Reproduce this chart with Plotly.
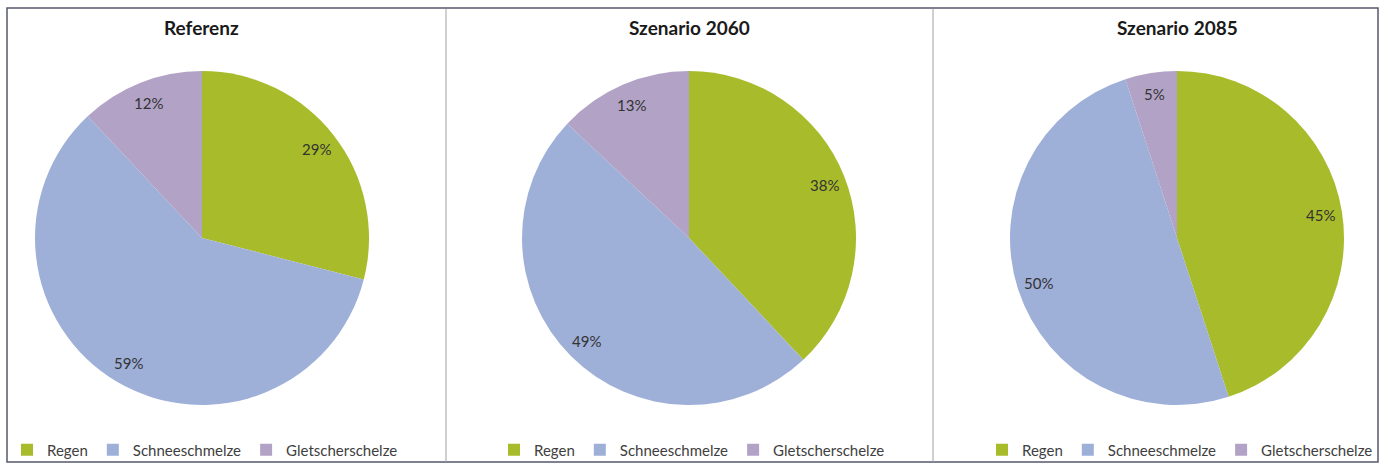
import math
import plotly.graph_objects as go

W, H = 1381, 463

categories = ["Regen", "Schneeschmelze", "Gletscherschelze"]
titles = ["Referenz", "Szenario 2060", "Szenario 2085"]
referenz = [29, 59, 12]
szenario_2060 = [38, 49, 13]
szenario_2085 = [45, 50, 5]
series = [referenz, szenario_2060, szenario_2085]
colors = ["#A8BC2B", "#9EAFD8", "#B2A3C6"]

centers_x = [202, 689, 1177]
center_y = 238
R = 167

fig = go.Figure()
annotations = []
legend_names = ["legend", "legend2", "legend3"]

for i, vals in enumerate(series):
    cx = centers_x[i]
    # zero-width spaces keep pie legend entries distinct per panel (same visible text)
    labels = [c + "\u200b" * i for c in categories]
    fig.add_trace(go.Pie(
        labels=labels, values=vals, sort=False, direction="clockwise",
        rotation=0, marker=dict(colors=colors, line=dict(width=0)),
        textinfo="none", hoverinfo="label+percent",
        domain=dict(x=[(cx - R) / W, (cx + R) / W],
                    y=[1 - (center_y + R) / H, 1 - (center_y - R) / H]),
        legend=legend_names[i], showlegend=True,
    ))
    total = sum(vals)
    cum = 0
    for v in vals:
        mid = (cum + v / 2) / total * 2 * math.pi
        cum += v
        px = cx + 0.87 * R * math.sin(mid)
        py = center_y - 0.87 * R * math.cos(mid)
        annotations.append(dict(
            x=px / W, y=1 - py / H, xref="paper", yref="paper",
            text=f"{round(v / total * 100)}%", showarrow=False,
            font=dict(family="Lato", size=15, color="#333333"),
            xanchor="center", yanchor="middle"))
    annotations.append(dict(
        x=cx / W, y=1 - 27 / H, xref="paper", yref="paper", text=f"<b>{titles[i]}</b>",
        showarrow=False, font=dict(family="Lato", size=19, color="#1a1a1a"),
        xanchor="center", yanchor="middle"))

legend_common = dict(orientation="h", xanchor="center", yanchor="middle",
                     font=dict(family="Lato", size=15, color="#404040"),
                     bgcolor="rgba(0,0,0,0)", itemclick=False, itemdoubleclick=False)
layout_legends = {}
for i, name in enumerate(legend_names):
    layout_legends[name] = dict(x=(centers_x[i] + 3) / W, y=1 - 450 / H, **legend_common)

shapes = [
    dict(type="rect", xref="paper", yref="paper", x0=7 / W, x1=1378 / W, y0=1 - 462 / H, y1=1 - 8 / H,
         line=dict(color="#55586e", width=1.5)),
    dict(type="line", xref="paper", yref="paper", x0=446 / W, x1=446 / W, y0=1 - 462 / H, y1=1 - 9 / H,
         line=dict(color="#a0a0a0", width=1)),
    dict(type="line", xref="paper", yref="paper", x0=933 / W, x1=933 / W, y0=1 - 462 / H, y1=1 - 9 / H,
         line=dict(color="#a0a0a0", width=1)),
]

fig.update_layout(
    width=W, height=H, margin=dict(l=0, r=0, t=0, b=0, autoexpand=False),
    paper_bgcolor="white", plot_bgcolor="white",
    annotations=annotations, shapes=shapes, **layout_legends,
)

fig.write_html("out.html", config={"displayModeBar": False},
               post_script="document.body.style.margin='0';document.body.style.overflow='hidden';")
